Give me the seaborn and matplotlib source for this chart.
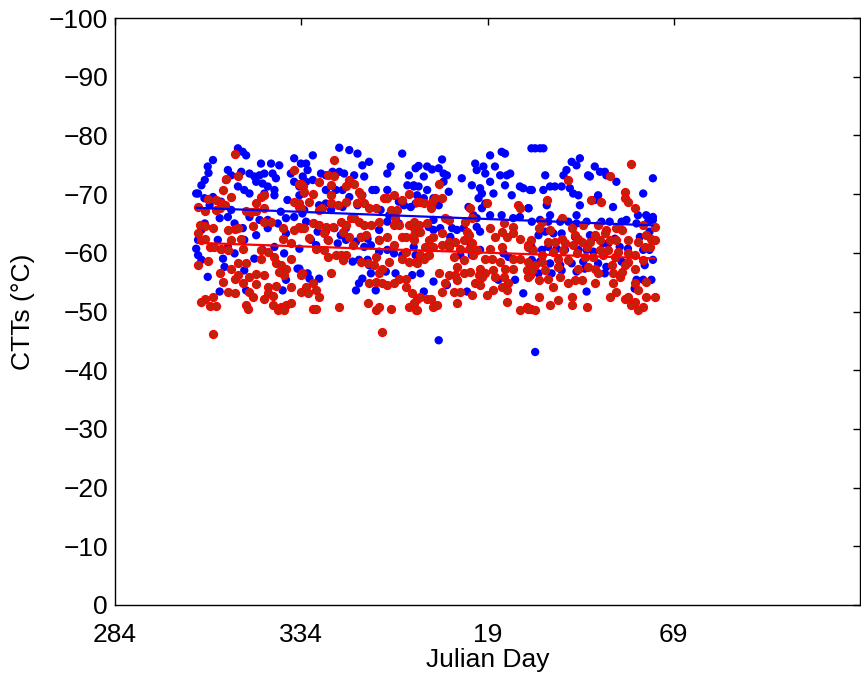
import numpy as np
import pandas as pd
import matplotlib
matplotlib.use("Agg")
import matplotlib.pyplot as plt
import seaborn as sns

# ---- data (day counted continuously from Oct; 384 == Jan 19) ----
blue_day = [
 317.0,318.3,319.2,310.3,308.9,309.1,308.1,307.2,306.3,314.3,315.2,313.8,317.9,320.1,321.4,322.8,324.1,325.9,328.1,326.3,
 327.2,323.2,321.9,323.6,325.0,326.8,317.0,318.7,320.1,324.1,326.8,332.1,333.9,331.2,332.1,333.5,330.3,334.8,308.0,310.3,
 305.8,309.4,312.5,315.2,314.3,312.1,320.1,322.8,325.0,328.5,329.9,332.1,334.3,308.1,307.2,316.1,318.3,325.0,327.7,321.9,
 329.9,318.7,311.6,306.3,305.8,306.3,307.2,312.5,314.3,316.1,313.0,321.4,323.6,326.8,329.4,333.5,313.4,318.7,308.9,312.1,
 319.2,329.0,329.9,333.0,
 344.2,346.9,349.1,337.1,361.1,335.3,335.7,334.4,335.3,337.1,339.3,340.6,342.4,344.2,345.5,348.2,350.9,350.4,352.2,357.1,
 358.0,362.9,364.7,362.5,364.2,333.5,333.5,340.6,342.0,343.3,345.1,346.9,350.4,353.1,354.0,357.1,360.2,361.6,363.4,364.7,
 365.1,340.6,342.0,338.8,334.8,345.1,349.1,355.3,357.6,335.3,337.5,338.4,340.6,342.9,344.6,346.0,350.0,351.8,354.9,354.9,
 357.1,360.2,336.6,338.0,341.1,343.8,346.0,348.7,350.9,352.7,354.9,357.1,358.9,361.1,364.7,333.5,335.7,336.2,338.8,347.8,
 349.5,351.8,352.2,350.4,349.5,348.7,354.0,352.7,356.7,359.3,363.8,
 371.8,384.7,387.8,388.7,395.8,365.5,367.8,369.1,370.9,372.2,373.1,366.9,377.1,380.7,382.9,381.1,383.4,386.0,387.4,389.2,
 390.1,364.2,365.5,367.8,372.2,373.6,379.8,382.0,384.7,385.6,382.5,381.6,388.7,390.5,392.7,393.6,395.4,366.9,369.5,370.9,
 378.9,382.5,383.4,380.2,381.1,384.7,387.8,390.9,392.7,395.0,369.5,368.2,369.5,371.3,374.5,375.8,377.6,374.0,381.1,382.0,
 374.9,364.2,367.8,366.0,376.7,379.4,379.8,382.0,388.3,389.6,395.8,369.5,373.1,375.8,378.5,366.9,386.9,391.4,393.6,370.9,
 396.8,398.1,399.0,406.6,407.9,408.8,412.8,399.5,405.2,404.4,411.0,411.5,414.2,415.5,415.9,418.6,428.4,425.8,395.9,399.0,
 400.8,402.1,403.9,406.1,407.0,408.4,413.7,412.8,408.8,417.7,399.9,395.0,400.8,407.9,424.4,426.6,428.4,395.9,398.1,400.3,
 403.5,405.7,407.9,410.6,414.6,416.8,420.0,421.3,424.0,427.1,428.4,397.7,399.5,401.7,403.9,407.5,411.5,412.8,418.2,424.9,
 427.5,395.9,398.6,400.3,402.6,404.8,408.4,410.6,412.4,415.0,416.4,419.5,421.7,425.8,427.5,395.9,398.1,400.8,403.5,406.6,
 409.7,413.7,415.9,420.0,421.7,426.2,428.4,395.0,397.7,401.2,403.9,407.9,410.1,415.5,424.0,425.8,428.0,410.6,423.5,396.8,
]
blue_ctt = [
 -77.8,-77.2,-76.6,-75.8,-74.7,-73.6,-72.4,-71.5,-70.1,-74.1,-73.2,-72.4,-73.8,-73.5,-73.0,-73.2,-73.5,-75.2,-74.9,-73.5,
 -72.7,-75.2,-72.1,-71.8,-71.3,-70.7,-71.3,-70.7,-70.1,-70.1,-69.8,-76.1,-75.2,-73.5,-72.1,-71.3,-69.0,-70.1,-69.3,-69.5,
 -70.1,-68.1,-68.7,-67.3,-66.1,-65.9,-66.1,-65.6,-65.6,-67.0,-65.9,-66.1,-66.7,-65.0,-63.9,-65.0,-64.2,-64.2,-65.0,-63.0,
 -63.3,-62.2,-62.2,-62.2,-60.7,-59.6,-58.8,-60.5,-61.0,-59.9,-59.0,-59.0,-60.5,-61.0,-59.9,-60.7,-57.6,-57.0,-55.9,-53.4,
 -53.6,-53.6,-55.4,-57.3,
 -77.9,-77.5,-76.9,-76.6,-76.9,-75.2,-74.1,-73.0,-72.1,-72.4,-73.5,-73.2,-73.8,-73.8,-73.5,-73.2,-73.0,-74.9,-75.5,-73.5,
 -74.7,-73.2,-74.4,-71.5,-71.5,-71.5,-69.8,-70.7,-69.8,-70.7,-70.7,-69.5,-69.8,-70.7,-70.7,-70.7,-68.7,-68.1,-67.8,-68.4,
 -69.8,-68.4,-67.3,-68.1,-67.3,-67.8,-68.1,-67.3,-66.4,-65.3,-65.0,-63.6,-63.6,-64.2,-63.0,-64.2,-62.7,-62.4,-63.9,-62.2,
 -65.3,-65.0,-62.2,-61.3,-62.2,-61.6,-62.2,-61.9,-61.0,-61.3,-60.2,-60.5,-59.9,-59.6,-59.6,-57.3,-56.5,-55.6,-55.6,-58.5,
 -58.8,-58.8,-57.9,-55.6,-54.8,-53.6,-53.6,-56.5,-56.8,-56.5,-56.2,
 -75.9,-76.6,-77.2,-76.9,-77.8,-74.8,-74.7,-74.2,-74.4,-73.5,-73.2,-73.0,-72.7,-75.2,-74.7,-74.1,-73.5,-74.7,-73.2,-73.2,
 -73.5,-71.3,-71.3,-70.7,-72.1,-70.4,-71.5,-71.0,-72.1,-70.1,-70.1,-69.3,-71.5,-69.8,-71.3,-71.0,-70.7,-69.3,-69.3,-68.1,
 -67.8,-67.6,-68.4,-66.4,-65.9,-66.4,-66.4,-65.9,-66.1,-67.6,-65.6,-64.4,-63.9,-64.2,-64.2,-63.9,-64.2,-62.7,-64.4,-63.6,
 -61.9,-61.0,-59.3,-56.5,-59.6,-61.6,-59.6,-60.5,-59.9,-59.3,-61.0,-55.1,-54.5,-55.4,-53.4,-53.4,-55.4,-55.4,-53.1,-45.1,
 -77.8,-77.8,-77.8,-75.5,-74.9,-76.1,-74.7,-73.2,-74.1,-73.2,-73.2,-73.0,-73.8,-73.8,-73.2,-72.1,-72.7,-70.1,-70.7,-70.7,
 -71.3,-71.3,-71.3,-71.0,-70.1,-69.8,-69.8,-69.0,-68.1,-67.8,-68.1,-67.6,-66.4,-66.4,-66.4,-66.4,-66.1,-65.3,-65.6,-65.3,
 -65.3,-65.3,-65.0,-65.3,-65.3,-65.3,-65.3,-65.6,-65.0,-65.3,-65.6,-63.0,-63.6,-63.3,-63.3,-62.7,-63.0,-62.7,-62.4,-62.7,
 -63.6,-60.5,-60.5,-61.0,-60.7,-60.5,-60.5,-60.5,-60.2,-61.6,-61.6,-61.0,-60.7,-60.5,-60.5,-58.8,-58.5,-58.2,-57.9,-58.2,
 -58.5,-58.2,-57.6,-58.5,-58.2,-57.9,-58.8,-55.9,-56.5,-56.5,-57.0,-56.8,-57.3,-56.5,-55.4,-55.4,-55.4,-53.4,-53.9,-43.1,
]

red_day = [
 316.1,317.0,313.8,312.9,308.9,311.2,312.5,313.4,315.2,306.3,308.1,311.2,312.1,320.5,319.2,321.9,324.1,321.9,323.2,324.1,
 332.1,333.5,333.9,332.1,306.7,308.1,310.3,314.3,316.1,317.0,321.0,324.1,325.9,329.0,332.1,333.9,306.3,307.2,308.1,315.2,
 317.9,309.4,310.7,312.5,314.3,318.3,323.2,325.0,329.0,331.2,306.3,308.9,317.0,319.2,323.2,326.8,327.2,328.5,329.9,329.4,
 328.1,331.2,334.3,312.1,315.2,317.0,320.1,321.9,324.1,313.0,316.1,318.3,321.9,325.0,327.2,331.2,333.9,320.1,321.0,314.3,
 316.1,325.0,326.3,310.3,308.1,307.2,309.4,311.2,319.2,319.6,324.1,326.3,328.5,329.9,331.2,327.7,329.4,310.3,
 342.9,333.5,334.4,334.8,337.1,338.8,341.1,342.9,342.0,346.0,346.9,348.2,349.5,350.0,333.5,333.9,336.2,342.0,342.0,343.8,
 346.0,349.1,350.9,352.2,354.0,356.2,357.1,358.9,361.1,362.9,365.1,338.8,339.7,358.0,359.8,337.1,338.8,340.6,342.4,344.6,
 346.0,347.3,348.2,349.5,350.9,352.7,354.9,359.3,358.9,360.2,362.9,364.2,333.5,334.8,336.2,340.2,341.1,345.1,346.9,350.0,
 351.3,354.9,357.1,361.1,362.0,364.2,338.0,340.2,341.1,343.3,344.6,346.0,345.1,347.8,350.0,351.8,353.6,354.0,355.8,354.9,
 357.6,358.9,361.1,362.0,362.9,364.7,333.9,337.1,338.0,335.3,335.7,338.8,342.0,352.2,354.0,355.8,357.1,358.9,360.2,362.0,
 362.0,363.8,365.1,337.1,338.0,344.2,351.8,354.0,354.9,358.0,362.9,364.2,364.7,355.8,
 370.9,366.0,366.9,369.1,370.0,371.8,368.7,379.4,383.8,392.3,392.7,364.2,365.5,367.8,372.7,373.6,378.0,379.8,364.2,366.0,
 368.2,369.5,371.8,373.6,375.3,377.6,378.5,378.9,379.8,384.7,386.0,387.8,388.3,389.2,390.9,390.9,392.7,395.0,395.8,367.3,
 369.5,371.8,373.6,376.7,378.9,381.1,384.7,387.8,366.0,366.9,368.2,374.9,377.6,380.2,383.4,385.1,387.4,390.9,392.7,395.0,
 365.1,375.8,382.0,373.6,375.3,377.6,379.4,381.6,383.4,385.6,388.7,390.9,394.5,395.4,370.9,372.7,375.8,380.7,382.0,382.5,
 386.0,388.3,389.6,387.8,366.0,367.8,368.7,371.8,374.9,376.7,379.8,383.8,385.6,389.2,364.2,365.1,369.5,370.4,375.8,389.2,
 392.7,394.5,395.8,
 422.6,416.8,405.7,420.9,420.9,421.7,399.9,411.9,414.6,423.5,403.9,398.6,397.7,400.8,406.6,409.7,413.7,415.9,418.6,420.0,
 425.8,428.9,400.3,402.1,403.9,404.8,407.5,408.4,409.3,412.8,414.2,415.5,416.8,418.6,421.7,424.4,426.6,428.0,428.9,395.0,
 396.3,398.6,401.7,404.4,407.0,410.6,411.5,414.2,416.4,419.1,421.7,423.5,426.2,427.5,396.8,398.6,403.0,405.7,407.9,410.1,
 412.4,415.0,418.2,421.7,425.8,395.9,399.5,403.0,408.4,411.0,412.8,417.3,420.9,423.5,395.0,397.7,400.3,403.5,407.5,409.3,
 413.7,417.7,419.5,420.0,423.5,426.6,401.7,405.7,412.8,417.7,424.4,397.7,406.6,416.8,418.6,420.9,421.7,423.5,425.8,426.6,
 428.9,395.0,396.8,400.8,403.0,406.6,410.6,422.6,424.4,
]
red_ctt = [
 -76.9,-73.0,-72.5,-70.7,-69.1,-69.0,-68.4,-68.1,-69.5,-67.8,-67.2,-67.3,-67.6,-67.0,-67.2,-67.2,-67.6,-68.4,-69.5,-69.8,
 -68.7,-67.8,-71.8,-74.1,-64.7,-64.5,-64.3,-63.9,-64.0,-64.3,-64.5,-65.3,-65.3,-64.2,-63.9,-64.3,-63.3,-62.2,-62.4,-62.2,
 -62.3,-61.0,-61.0,-60.7,-60.5,-60.7,-60.5,-60.2,-62.4,-61.6,-57.9,-58.6,-58.3,-58.3,-59.0,-59.3,-58.2,-57.9,-57.3,-56.2,
 -56.8,-59.0,-56.5,-56.6,-57.3,-56.2,-55.9,-56.4,-56.2,-55.1,-55.5,-54.8,-54.7,-54.2,-54.3,-54.2,-53.4,-53.4,-52.5,-53.4,
 -53.1,-53.1,-52.6,-52.5,-52.2,-51.7,-50.9,-50.9,-51.1,-50.5,-52.1,-51.1,-50.8,-51.1,-51.4,-50.2,-50.2,-46.1,
 -75.8,-71.8,-71.3,-70.4,-70.1,-72.1,-73.2,-73.0,-71.5,-71.3,-72.4,-71.8,-70.4,-69.8,-68.4,-67.6,-68.7,-69.8,-68.4,-68.1,
 -68.7,-68.4,-68.4,-67.6,-67.6,-69.3,-69.3,-69.8,-69.0,-70.1,-68.7,-67.3,-67.6,-67.3,-67.3,-65.0,-64.7,-64.4,-64.4,-65.3,
 -64.7,-65.9,-65.9,-65.3,-64.7,-64.7,-65.3,-65.9,-64.7,-64.7,-64.7,-64.2,-64.4,-64.3,-62.5,-63.3,-62.2,-63.6,-62.7,-62.7,
 -63.0,-62.2,-62.7,-62.7,-62.7,-62.2,-60.7,-60.5,-59.3,-59.6,-59.6,-59.6,-58.8,-61.3,-58.5,-58.2,-57.9,-59.3,-57.3,-56.5,
 -58.5,-61.3,-59.0,-60.2,-58.5,-58.5,-56.2,-54.8,-53.6,-54.2,-53.1,-52.5,-56.5,-54.8,-55.1,-54.8,-54.5,-54.8,-55.6,-55.5,
 -54.2,-53.1,-52.2,-50.4,-50.4,-50.8,-51.4,-50.2,-50.8,-50.5,-50.8,-51.4,-50.2,-46.5,
 -71.8,-68.7,-68.4,-68.7,-69.3,-69.3,-67.6,-67.6,-68.4,-68.1,-67.6,-65.3,-64.7,-65.0,-65.9,-65.6,-65.3,-65.9,-63.0,-63.6,
 -62.2,-62.7,-63.3,-61.9,-61.9,-62.2,-63.6,-63.0,-61.6,-64.2,-62.7,-63.6,-65.0,-62.7,-64.4,-63.3,-62.4,-61.3,-62.2,-61.0,
 -61.0,-61.3,-61.0,-60.7,-60.7,-60.5,-60.7,-61.0,-59.6,-59.0,-59.6,-59.3,-58.8,-59.6,-59.0,-59.0,-58.5,-59.0,-59.0,-58.5,
 -58.2,-57.6,-57.3,-56.2,-56.2,-56.5,-56.8,-56.2,-56.5,-57.0,-57.3,-57.3,-57.0,-56.2,-56.5,-54.8,-55.4,-54.8,-54.5,-55.9,
 -55.9,-55.9,-54.8,-54.2,-52.5,-52.2,-52.1,-53.4,-53.4,-53.4,-52.8,-52.8,-53.6,-53.6,-51.4,-50.2,-50.8,-51.1,-51.5,-51.7,
 -50.2,-50.8,-50.5,
 -75.2,-73.0,-72.4,-70.4,-69.3,-68.7,-69.0,-69.0,-68.7,-67.6,-65.9,-65.3,-64.3,-63.9,-64.2,-64.7,-64.7,-63.9,-64.2,-63.9,
 -64.7,-64.4,-61.9,-61.9,-62.4,-61.6,-63.0,-62.4,-61.9,-63.0,-62.2,-63.3,-62.2,-62.2,-62.2,-61.9,-63.0,-62.4,-62.2,-61.0,
 -60.5,-59.6,-60.2,-60.5,-61.3,-61.0,-61.9,-60.5,-60.5,-60.2,-59.9,-59.6,-61.0,-61.0,-57.9,-58.5,-59.0,-58.8,-59.9,-59.3,
 -59.3,-59.6,-59.3,-58.5,-58.8,-57.0,-57.0,-57.6,-57.3,-57.6,-57.3,-57.9,-57.9,-57.3,-55.9,-55.4,-55.6,-55.9,-55.4,-55.4,
 -56.5,-56.5,-55.9,-56.8,-54.8,-55.1,-54.2,-54.8,-54.8,-54.8,-53.6,-52.5,-52.5,-52.5,-53.4,-52.2,-52.5,-51.7,-50.8,-52.5,
 -52.5,-50.5,-50.2,-51.1,-51.9,-51.1,-50.8,-51.1,-50.2,
]

x_ticks = [284, 334, 384, 434]
x_tick_labels = ["284", "334", "19", "69"]
y_ticks = [0, -10, -20, -30, -40, -50, -60, -70, -80, -90, -100]

blue_df = pd.DataFrame({"day": blue_day, "ctt": blue_ctt})
red_df = pd.DataFrame({"day": red_day, "ctt": red_ctt})

sns.set_style("white")
plt.rcParams["font.family"] = ["Liberation Sans", "DejaVu Sans"]
plt.rcParams["text.color"] = "black"
plt.rcParams["axes.labelcolor"] = "black"

fig = plt.figure(figsize=(8.61, 6.77), dpi=100)
ax = fig.add_axes([115/861, 72/677, 745/861, 587/677])

sns.scatterplot(data=blue_df, x="day", y="ctt", ax=ax, color="#0000ff",
                s=36, edgecolor="none", linewidth=0, zorder=2)
sns.scatterplot(data=red_df, x="day", y="ctt", ax=ax, color="#b3280f",
                s=32, edgecolor="#ff0000", linewidth=1.0, zorder=3)
sns.regplot(data=blue_df, x="day", y="ctt", ax=ax, scatter=False, ci=None,
            line_kws={"color": "#0000ff", "linewidth": 1.6, "zorder": 4})
sns.regplot(data=red_df, x="day", y="ctt", ax=ax, scatter=False, ci=None,
            line_kws={"color": "#ff0000", "linewidth": 1.6, "zorder": 4})

ax.set_xlim(284, 484)
ax.set_ylim(0, -100)
ax.set_xticks(x_ticks)
ax.set_xticklabels(x_tick_labels)
ax.set_yticks(y_ticks)
ax.set_yticklabels([f"\u2212{abs(v)}" if v != 0 else "0" for v in y_ticks])
ax.tick_params(direction="in", length=5, width=1, labelsize=19,
               top=True, right=True, colors="black")
ax.tick_params(axis="x", pad=13)
ax.tick_params(axis="y", pad=5)
for s in ax.spines.values():
    s.set_visible(True)
    s.set_color("black")
    s.set_linewidth(1.0)
ax.set_xlabel("Julian Day", fontsize=19, labelpad=1, color="black")
ax.set_ylabel("CTTs (\u00b0C)", fontsize=19, labelpad=10, color="black")
ax.grid(False)

fig.savefig("out.png", dpi=100)
